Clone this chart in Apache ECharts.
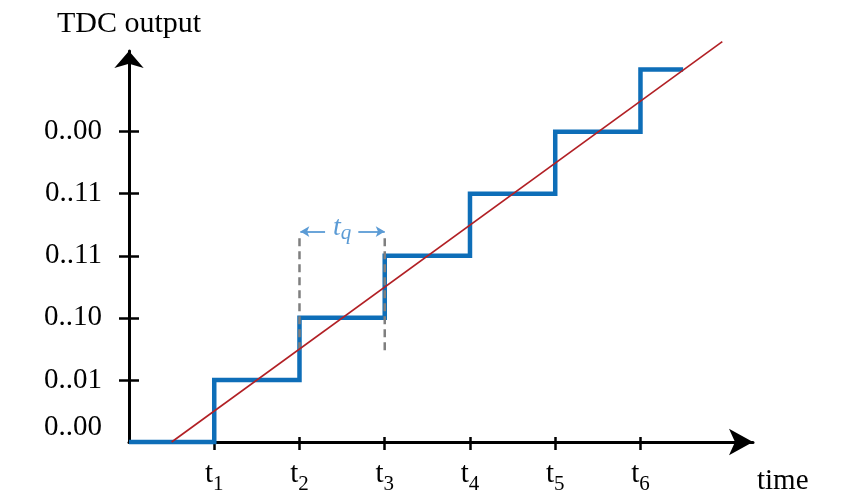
<!DOCTYPE html>
<html>
<head>
<meta charset="utf-8">
<title>TDC output</title>
<script src="https://cdn.jsdelivr.net/npm/echarts@6/dist/echarts.min.js"></script>
<style>
  html, body { margin: 0; padding: 0; background: #fff; }
  #chart { width: 851px; height: 497px; }
</style>
</head>
<body>
<div id="chart"></div>
<script>
// quantized TDC output (step) and ideal ramp
var stepTimes = [0, 1, 2, 3, 4, 5, 6, 6.5];
var stepLevels = [0, 1, 2, 3, 4, 5, 6, 6];
var rampTimes = [0.5, 6.96];
var rampLevels = [0, 6.45];

// tick labels
var timeTicks = [1, 2, 3, 4, 5, 6];
var timeSubs = ['1', '2', '3', '4', '5', '6'];
var levelTicks = [0, 1, 2, 3, 4, 5];
var levelLabels = ['0..00', '0..01', '0..10', '0..11', '0..11', '0..00'];

// t_q marker: dashed guides at t2, t3 and the span between them
var guideTimes = [2, 3];
var guideRange = [1.48, 3.31];
var spanLevel = 3.39;
var spanLeft = [2.3, 2.01];
var spanRight = [2.69, 3.0];

var serif = '"Liberation Serif", "Times New Roman", serif';
var blue = '#0E6EB8';
var red = '#B22025';
var grey = '#7F7F7F';
var lightBlue = '#5B9BD5';

function pairs(xs, ys) {
    var out = [];
    for (var i = 0; i < xs.length; i++) {
        out.push([xs[i], ys[i]]);
    }
    return out;
}

var guideSeries = [];
for (var g = 0; g < guideTimes.length; g++) {
    guideSeries.push({
        type: 'line',
        data: [[guideTimes[g], guideRange[0]], [guideTimes[g], guideRange[1]]],
        symbol: 'none',
        silent: true,
        z: 4,
        lineStyle: { color: grey, width: 2.5, type: [8, 5] }
    });
}

var chart = echarts.init(document.getElementById('chart'), null, { renderer: 'canvas' });

var tickStyle = { color: '#000', width: 2.5 };

var option = {
    animation: false,
    backgroundColor: '#fff',
    grid: { left: 129, right: 98, top: 51, bottom: 55, containLabel: false },
    xAxis: [{
        type: 'value',
        min: 0,
        max: 7.32,
        interval: 1,
        name: '{a|time}',
        nameLocation: 'end',
        nameGap: 4,
        nameMoveOverlap: false,
        nameTextStyle: {
            rich: {
                a: { fontFamily: serif, fontSize: 29, color: '#000', lineHeight: 30, padding: [78, 0, 0, 0] }
            }
        },
        axisLine: {
            show: true,
            onZero: false,
            symbol: ['none', 'arrow'],
            symbolSize: [20, 24],
            lineStyle: { color: '#000', width: 3 }
        },
        axisTick: { show: true, customValues: timeTicks, length: 8, lineStyle: tickStyle },
        axisLabel: {
            customValues: timeTicks,
            margin: 15,
            formatter: function(v) {
                return '{t|t}{s|' + timeSubs[timeTicks.indexOf(v)] + '}';
            },
            rich: {
                t: { fontFamily: serif, fontSize: 29, color: '#000', lineHeight: 34 },
                s: { fontFamily: serif, fontSize: 21, color: '#000', lineHeight: 20, padding: [20, 0, 0, 0] }
            }
        },
        splitLine: { show: false }
    }, {
        // second axis only for the inner half of the ticks
        type: 'value',
        position: 'bottom',
        min: 0,
        max: 7.32,
        interval: 1,
        axisLine: { show: false },
        axisTick: { show: true, inside: true, customValues: timeTicks, length: 5, lineStyle: tickStyle },
        axisLabel: { show: false },
        splitLine: { show: false }
    }],
    yAxis: [{
        type: 'value',
        min: 0,
        max: 6.3,
        interval: 1,
        name: 'TDC output',
        nameLocation: 'end',
        nameGap: 12,
        nameTextStyle: { fontFamily: serif, fontSize: 30, color: '#000', align: 'center' },
        axisLine: {
            show: true,
            onZero: false,
            symbol: ['none', 'arrow'],
            symbolSize: [22, 17],
            lineStyle: { color: '#000', width: 3 }
        },
        axisTick: { show: true, customValues: [1, 2, 3, 4, 5], length: 10, lineStyle: tickStyle },
        axisLabel: {
            customValues: levelTicks,
            margin: 27,
            fontFamily: serif,
            fontSize: 29,
            color: '#000',
            verticalAlignMinLabel: 'bottom',
            formatter: function(v) {
                return levelLabels[levelTicks.indexOf(v)];
            }
        },
        splitLine: { show: false }
    }, {
        type: 'value',
        position: 'left',
        min: 0,
        max: 6.3,
        interval: 1,
        axisLine: { show: false },
        axisTick: { show: true, inside: true, customValues: [1, 2, 3, 4, 5], length: 10, lineStyle: tickStyle },
        axisLabel: { show: false },
        splitLine: { show: false }
    }],
    series: [{
        name: 'TDC',
        type: 'line',
        step: 'end',
        data: pairs(stepTimes, stepLevels),
        symbol: 'none',
        clip: false,
        z: 3,
        lineStyle: { color: blue, width: 4.5, join: 'miter' }
    }, {
        name: 'ramp',
        type: 'line',
        data: pairs(rampTimes, rampLevels),
        symbol: 'none',
        clip: false,
        z: 5,
        lineStyle: { color: red, width: 1.6 }
    }].concat(guideSeries).concat([{
        // t_q span arrows and label
        type: 'line',
        data: [],
        symbol: 'none',
        silent: true,
        z: 6,
        markLine: {
            silent: true,
            symbol: ['none', 'arrow'],
            symbolSize: [8, 9],
            label: { show: false },
            lineStyle: { color: lightBlue, width: 1.8, type: 'solid' },
            data: [
                [{ coord: [spanLeft[0], spanLevel] }, { coord: [spanLeft[1], spanLevel] }],
                [{ coord: [spanRight[0], spanLevel] }, { coord: [spanRight[1], spanLevel] }]
            ]
        },
        markPoint: {
            silent: true,
            symbol: 'circle',
            symbolSize: 0,
            data: [{ coord: [2.5, 3.45] }],
            label: {
                show: true,
                position: 'inside',
                formatter: '{t|t}{s|q}',
                rich: {
                    t: { fontFamily: serif, fontStyle: 'italic', fontSize: 28, color: lightBlue, lineHeight: 32 },
                    s: { fontFamily: serif, fontStyle: 'italic', fontSize: 21, color: lightBlue, lineHeight: 22, padding: [12, 0, 0, 0] }
                }
            }
        }
    }])
};

chart.setOption(option);
</script>
</body>
</html>
